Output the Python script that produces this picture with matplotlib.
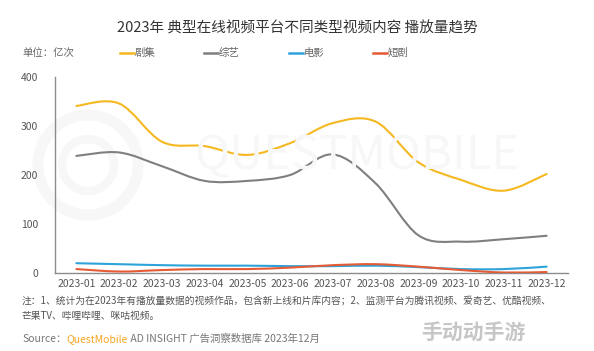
import numpy as np
import matplotlib
matplotlib.use('Agg')
import matplotlib.pyplot as plt
from matplotlib.path import Path
from matplotlib.patches import PathPatch, Circle

plt.rcParams['font.family'] = ['Noto Sans CJK SC', 'DejaVu Sans']

# data (亿次)
months = ['2023-01', '2023-02', '2023-03', '2023-04', '2023-05', '2023-06',
          '2023-07', '2023-08', '2023-09', '2023-10', '2023-11', '2023-12']
drama = [341, 346, 268, 259, 241, 265, 306, 309, 226, 190, 168, 202]
variety = [239, 246, 218, 188, 188, 200, 242, 183, 77, 64, 69, 76]
movie = [20, 18, 16, 15, 15, 14, 14, 15, 12, 8, 8, 13]
short = [8, 3, 6, 8, 8, 11, 16, 18, 13, 6, 1, 2]

series = [('剧集', drama, '#F5B820'),
          ('综艺', variety, '#7F7F7F'),
          ('电影', movie, '#2EA3DA'),
          ('短剧', short, '#E55B36')]


def smooth_path(xs, ys, k=0.5):
    """Catmull-Rom style cubic bezier through the data points"""
    pts = np.column_stack([xs, ys]).astype(float)
    n = len(pts)
    verts = [pts[0]]
    codes = [Path.MOVETO]
    for i in range(n - 1):
        p0 = pts[max(i - 1, 0)]
        p1 = pts[i]
        p2 = pts[i + 1]
        p3 = pts[min(i + 2, n - 1)]
        c1 = p1 + (p2 - p0) * k / 3
        c2 = p2 - (p3 - p1) * k / 3
        verts += [c1, c2, p2]
        codes += [Path.CURVE4] * 3
    return Path(verts, codes)


fig = plt.figure(figsize=(5.94, 3.51), dpi=100)

# faint watermark (logo rings + wordmark), in inches so circles stay round
inch = fig.dpi_scale_trans
fig.add_artist(Circle((0.88, 1.86), 0.50, transform=inch,
                      facecolor='none', edgecolor='#f7f7f7', lw=8, zorder=0))
fig.add_artist(Circle((0.88, 1.86), 0.26, transform=inch,
                      facecolor='none', edgecolor='#f7f7f7', lw=6, zorder=0))
fig.text(0.6, 0.555, 'QUESTMOBILE', fontsize=34, color='#f7f7f7',
         ha='center', va='center', zorder=0)

ax = fig.add_axes([0.0926, 0.2222, 0.8636, 0.5584])
ax.set_facecolor('none')

x = np.arange(len(months))
for name, vals, color in series:
    patch = PathPatch(smooth_path(x, vals), facecolor='none', edgecolor=color,
                      lw=1.5, capstyle='round', zorder=3)
    ax.add_patch(patch)

ax.set_xlim(-0.5, 11.5)
ax.set_ylim(0, 400)
ax.set_yticks([0, 100, 200, 300, 400])
ax.set_xticks(x)
ax.set_xticklabels(months)
ax.tick_params(length=0, labelsize=7.5, colors='#555555', pad=4)
ax.tick_params(axis='y', pad=12)
for s in ['top', 'right']:
    ax.spines[s].set_visible(False)
for s in ['left', 'bottom']:
    ax.spines[s].set_color('#8c8c8c')
    ax.spines[s].set_linewidth(1.0)

# title
fig.text(0.5, 0.92, '2023年 典型在线视频平台不同类型视频内容 播放量趋势',
         ha='center', va='center', fontsize=10.5, color='#333333')

# unit + legend
fig.text(22 / 594, 1 - 53 / 351, '单位：亿次', ha='left', va='center',
         fontsize=7.5, color='#666666')
leg_x = [120, 204, 289, 373]
for (name, vals, color), lx in zip(series, leg_x):
    fig.add_artist(plt.Line2D([lx / 594, (lx + 14) / 594],
                              [1 - 53 / 351, 1 - 53 / 351],
                              color=color, lw=1.8))
    fig.text((lx + 15) / 594, 1 - 53 / 351, name, ha='left', va='center',
             fontsize=7.5, color='#666666')

# notes
fig.text(22 / 594, 1 - 301 / 351,
         '注：1、统计为在2023年有播放量数据的视频作品，包含新上线和片库内容；2、监测平台为腾讯视频、爱奇艺、优酷视频、',
         ha='left', va='center', fontsize=7, color='#555555')
fig.text(22 / 594, 1 - 316 / 351, '芒果TV、哔哩哔哩、咪咕视频。',
         ha='left', va='center', fontsize=7, color='#555555')

# source line
t1 = fig.text(22 / 594, 1 - 339 / 351, 'Source：', ha='left', va='center',
              fontsize=7.5, color='#777777')
fig.canvas.draw()
r = fig.canvas.get_renderer()
bb = t1.get_window_extent(r)
t2 = fig.text(bb.x1 / 594, 1 - 339 / 351, 'QuestMobile', ha='left', va='center',
              fontsize=7.5, color='#F5A623')
bb = t2.get_window_extent(r)
fig.text(bb.x1 / 594, 1 - 339 / 351, ' AD INSIGHT 广告洞察数据库 2023年12月',
         ha='left', va='center', fontsize=7.5, color='#777777')

# corner watermark
fig.text(473 / 594, 1 - 332 / 351, '手动动手游', ha='center', va='center',
         fontsize=15, fontweight='bold', color='#bcbcbc', alpha=0.85)

fig.savefig('out.png', dpi=100)
